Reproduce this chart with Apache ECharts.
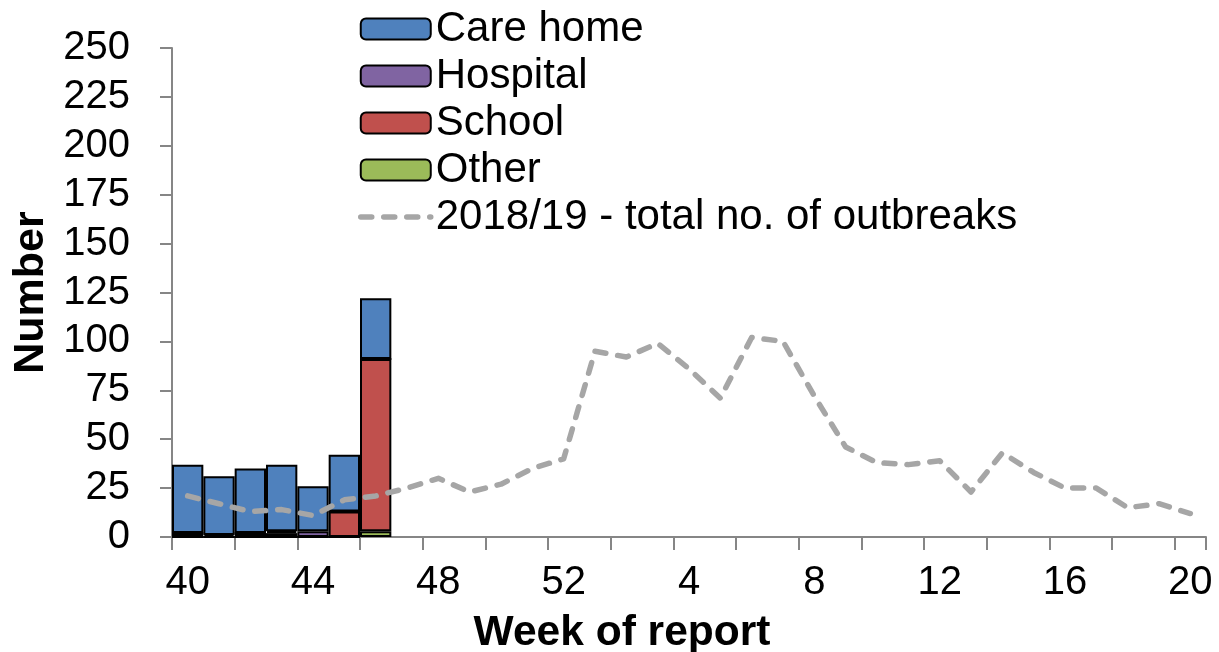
<!DOCTYPE html>
<html>
<head>
<meta charset="utf-8">
<script src="https://cdn.jsdelivr.net/npm/echarts@6/dist/echarts.min.js"></script>
<style>
  html, body { margin: 0; padding: 0; background: #fff; }
  #chart { width: 1219px; height: 652px; }
</style>
</head>
<body>
<div id="chart"></div>
<script>
// weeks of report, 2019/20 season
const weeks = ['40', '41', '42', '43', '44', '45', '46', '47', '48', '49', '50', '51', '52',
  '1', '2', '3', '4', '5', '6', '7', '8', '9', '10', '11', '12', '13', '14', '15', '16', '17', '18', '19', '20']

// outbreaks by setting (first 7 weeks reported)
const careHome = [35, 30, 33, 34, 23, 29, 31]
const hospital = [0, 1, 0, 1, 3, 0, 0]
const school = [2, 0, 2, 2, 0, 13, 88]
const other = [0, 0, 0, 0, 0, 0, 3]

// 2018/19 - total no. of outbreaks
const lastSeason = [21, 17, 13, 14, 11, 19, 21, 25, 30, 23, 27, 35, 40,
  95, 92, 99, 86, 71, 102, 100, 72, 46, 38, 37, 39, 23, 43, 33, 25, 25, 15, 17, 12]

const yTicks = { min: 0, max: 250, interval: 25 }

const font = 'Liberation Sans, Arial, sans-serif'
const axisGrey = '#868686'
const lineGrey = '#A6A6A6'
const dash = { color: lineGrey, width: 5.5, type: [11, 12], cap: 'round', join: 'round' }

const chart = echarts.init(document.getElementById('chart'))

function barSeries(name, data, color) {
  return {
    name,
    type: 'bar',
    stack: 'outbreaks',
    data,
    barCategoryGap: '0%',
    itemStyle: { color, borderColor: '#000', borderWidth: 2 },
    emphasis: { disabled: true },
  }
}

chart.setOption({
  animation: false,
  textStyle: { fontFamily: font },
  grid: { left: 172, right: 13, top: 48, bottom: 115, containLabel: false, outerBoundsMode: 'none' },
  legend: {
    orient: 'vertical',
    left: 353,
    top: 3,
    itemWidth: 70,
    itemHeight: 21,
    itemGap: 5,
    data: [
      'Care home', 'Hospital', 'School', 'Other',
      { name: '2018/19 - total no. of outbreaks', itemStyle: { opacity: 0 }, lineStyle: dash },
    ],
    textStyle: { fontSize: 42, color: '#000', fontFamily: font },
  },
  xAxis: {
    type: 'category',
    data: weeks,
    boundaryGap: true,
    name: 'Week of report',
    nameLocation: 'middle',
    nameGap: 75,
    nameTextStyle: { fontSize: 42.5, fontWeight: 'bold', color: '#000', padding: [0, 134, 0, 0] },
    axisLine: { lineStyle: { color: axisGrey, width: 2 } },
    axisTick: { show: true, interval: 1, length: 13, lineStyle: { color: axisGrey, width: 2 } },
    axisLabel: { interval: 3, fontSize: 40, color: '#000', margin: 26 },
    splitLine: { show: false },
  },
  yAxis: {
    type: 'value',
    min: yTicks.min,
    max: yTicks.max,
    interval: yTicks.interval,
    name: 'Number',
    nameLocation: 'middle',
    nameGap: 118,
    nameTextStyle: { fontSize: 43, fontWeight: 'bold', color: '#000' },
    axisLine: { show: true, lineStyle: { color: axisGrey, width: 2 } },
    axisTick: { show: true, length: 12, lineStyle: { color: axisGrey, width: 2 } },
    axisLabel: { fontSize: 40, color: '#000', margin: 42 },
    splitLine: { show: false },
  },
  series: [
    barSeries('Other', other, '#9BBB59'),
    barSeries('School', school, '#C0504D'),
    barSeries('Hospital', hospital, '#8064A2'),
    barSeries('Care home', careHome, '#4F81BD'),
    {
      name: '2018/19 - total no. of outbreaks',
      type: 'line',
      data: lastSeason,
      symbol: 'none',
      z: 5,
      itemStyle: { color: lineGrey },
      lineStyle: dash,
      emphasis: { disabled: true },
    },
  ],
})
</script>
</body>
</html>
